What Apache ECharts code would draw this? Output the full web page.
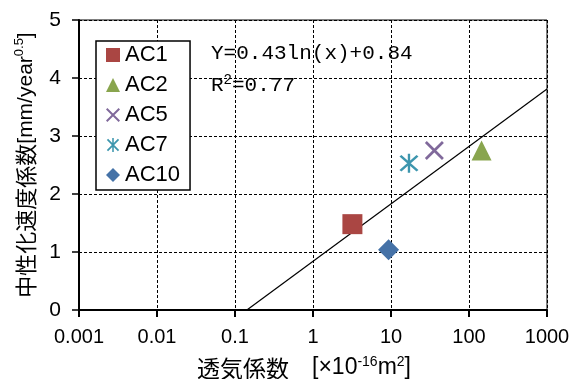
<!DOCTYPE html>
<html>
<head>
<meta charset="utf-8">
<script src="https://cdn.jsdelivr.net/npm/echarts@6/dist/echarts.min.js"></script>
<style>
  html, body { margin: 0; padding: 0; background: #fff; }
  #chart { width: 574px; height: 379px; }
</style>
</head>
<body>
<div id="chart"></div>
<script>
// 試料ごとの透気係数と中性化速度係数
const names = ['AC1', 'AC2', 'AC5', 'AC7', 'AC10']
const permeability = [3.2, 145, 36, 17, 9.3]
const carbonation = [1.48, 2.75, 2.75, 2.53, 1.04]
const colors = ['#AA4643', '#89A54E', '#80699B', '#3D96AE', '#4572A7']
const symbols = [
  'rect',
  'triangle',
  'path://M0,1L1,0L10,9L9,10Z M9,0L10,1L1,10L0,9Z',
  'path://M0.6,1.5L1.5,0.6L9.4,8.5L8.5,9.4Z M8.5,0.6L9.4,1.5L1.5,9.4L0.6,8.5Z M4.45,0L5.55,0L5.55,10L4.45,10Z',
  'diamond'
]
const sizes = [20, 20, 19, 19, 21]

// 近似曲線 Y=0.43ln(x)+0.84 の両端
const trendX = [0.142, 1000]
const trendY = [0, 3.81]

const xTicks = ['0.001', '0.01', '0.1', '1', '10', '100', '1000']

const latin = '"Liberation Sans", Arial, sans-serif'
const cjk = '"Noto Sans CJK JP", sans-serif'
const mono = '"Liberation Mono", "DejaVu Sans Mono", monospace'

const chart = echarts.init(document.getElementById('chart'))

const series = names.map((name, i) => ({
  name: name,
  type: 'scatter',
  symbol: symbols[i],
  symbolSize: sizes[i],
  itemStyle: { color: colors[i], opacity: 1 },
  data: [[permeability[i], carbonation[i]]],
  z: 3
}))

series.push({
  name: 'trend',
  type: 'line',
  symbol: 'none',
  lineStyle: { color: '#000', width: 1.2 },
  data: trendX.map((x, i) => [x, trendY[i]]),
  z: 2,
  silent: true
})

const gridLine = { show: true, lineStyle: { color: '#000', width: 1, type: [3, 2] } }

const option = {
  animation: false,
  backgroundColor: '#fff',
  grid: {
    left: 79, right: 27, top: 20, bottom: 69,
    outerBoundsMode: 'none',
    containLabel: false,
    show: true, borderColor: '#000', borderWidth: 1
  },
  xAxis: {
    type: 'log',
    logBase: 10,
    min: 0.001,
    max: 1000,
    name: '{c|透気係数　}{a|[×10}{s|-16}{a|m}{s|2}{a|]}',
    nameLocation: 'middle',
    nameGap: 45,
    nameTextStyle: {
      padding: [0, 18, 0, 0],
      rich: {
        c: { fontFamily: cjk, fontSize: 23, color: '#000', lineHeight: 26 },
        a: { fontFamily: latin, fontSize: 23, color: '#000', lineHeight: 26 },
        s: { fontSize: 14, verticalAlign: 'top', fontFamily: latin, color: '#000', lineHeight: 26 }
      }
    },
    axisLine: { lineStyle: { color: '#000', width: 2 } },
    axisTick: { length: 7, lineStyle: { color: '#000', width: 2 } },
    minorTick: { show: false },
    axisLabel: {
      fontFamily: latin, fontSize: 20, color: '#000', margin: 17,
      formatter: (v) => xTicks[Math.round(Math.log10(v)) + 3]
    },
    splitLine: gridLine
  },
  yAxis: {
    type: 'value',
    min: 0,
    max: 5,
    interval: 1,
    name: '{c|中性化速度係数}{a|[mm/year}{s|0.5}{a|]}',
    nameLocation: 'middle',
    nameGap: 40,
    nameTextStyle: {
      rich: {
        c: { fontFamily: cjk, fontSize: 22, color: '#000', lineHeight: 26 },
        a: { fontFamily: latin, fontSize: 21, color: '#000', lineHeight: 26 },
        s: { fontFamily: latin, fontSize: 13, color: '#000', verticalAlign: 'top', lineHeight: 26 }
      }
    },
    axisLine: { lineStyle: { color: '#000', width: 2 } },
    axisTick: { length: 7, lineStyle: { color: '#000', width: 1.5 } },
    axisLabel: { fontFamily: latin, fontSize: 21, color: '#000', margin: 18 },
    splitLine: gridLine
  },
  legend: {
    data: names,
    orient: 'vertical',
    left: 96,
    top: 41,
    padding: [3, 10, 4, 10],
    itemGap: 8,
    itemWidth: 14,
    itemHeight: 14,
    itemTextGap: 6,
    borderColor: '#000',
    borderWidth: 1.5,
    backgroundColor: '#fff',
    textStyle: { fontFamily: latin, fontSize: 22, color: '#000' }
  },
  graphic: [
    {
      type: 'text',
      left: 211,
      top: 43,
      style: {
        text: 'Y=0.43ln(x)+0.84',
        font: '21px ' + mono,
        fill: '#000'
      }
    },
    {
      type: 'text',
      left: 211,
      top: 73,
      style: {
        text: '{a|R}{s|2}{a|=0.77}',
        rich: {
          a: { font: '21px ' + mono, fill: '#000', lineHeight: 25 },
          s: { font: '14px ' + mono, fill: '#000', verticalAlign: 'top', lineHeight: 25 }
        }
      }
    }
  ],
  series: series
}

chart.setOption(option)
</script>
</body>
</html>
